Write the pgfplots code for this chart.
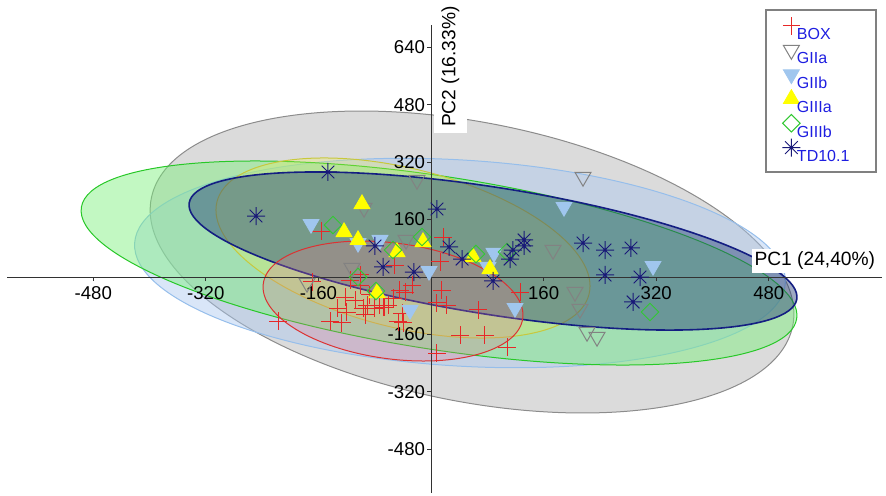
\documentclass[border=0pt]{standalone}
\usepackage{pgfplots}
\usepackage{pgfplotstable}
\pgfplotsset{compat=1.18}
\usepackage{fontspec}
\setmainfont{Liberation Sans}
\definecolor{axisgray}{RGB}{50,50,50}
\definecolor{boxred}{RGB}{230,40,40}
\definecolor{giiagray}{RGB}{130,130,130}
\definecolor{giibblue}{RGB}{160,198,238}
\definecolor{giiiayel}{RGB}{255,255,0}
\definecolor{giiibgreen}{RGB}{50,200,50}
\definecolor{tdnavy}{RGB}{25,25,120}
\definecolor{legblue}{RGB}{30,30,225}
\definecolor{ellgrayD}{RGB}{140,140,140}
\definecolor{ellgrayF}{RGB}{190,190,190}
\definecolor{ellblueD}{RGB}{150,190,235}
\definecolor{ellblueF}{RGB}{170,200,240}
\definecolor{ellgreenD}{RGB}{40,200,40}
\definecolor{ellgreenF}{RGB}{120,240,120}
\definecolor{ellyelD}{RGB}{200,200,60}
\definecolor{ellyelF}{RGB}{240,240,80}
\definecolor{ellnavyD}{RGB}{20,30,130}
\definecolor{ellnavyF}{RGB}{40,65,120}
\definecolor{ellredD}{RGB}{220,50,50}
\definecolor{ellredF}{RGB}{225,120,140}
\pgfdeclareplotmark{star8}{%
  \pgfpathmoveto{\pgfqpoint{-\pgfplotmarksize}{0pt}}\pgfpathlineto{\pgfqpoint{\pgfplotmarksize}{0pt}}%
  \pgfpathmoveto{\pgfqpoint{0pt}{-\pgfplotmarksize}}\pgfpathlineto{\pgfqpoint{0pt}{\pgfplotmarksize}}%
  \pgfpathmoveto{\pgfqpoint{-0.7071\pgfplotmarksize}{-0.7071\pgfplotmarksize}}\pgfpathlineto{\pgfqpoint{0.7071\pgfplotmarksize}{0.7071\pgfplotmarksize}}%
  \pgfpathmoveto{\pgfqpoint{-0.7071\pgfplotmarksize}{0.7071\pgfplotmarksize}}\pgfpathlineto{\pgfqpoint{0.7071\pgfplotmarksize}{-0.7071\pgfplotmarksize}}%
  \pgfusepathqstroke
  \pgfpathcircle{\pgfpointorigin}{0.6pt}\pgfusepathqfill
}
% red plus glyph built from two rules (coloured through the text colour)
\newcommand{\boxplusglyph}{\textcolor{boxred}{\makebox[0pt][c]{\rule[-0.25pt]{8.6pt}{0.5pt}}\makebox[0pt][c]{\rule[-4.3pt]{0.5pt}{8.6pt}}}}
\pgfplotstableread{
x y
-156.3 128.1
17.1 111.4
-217.4 -122.6
-169.1 -13.9
-143.5 -122.6
-126.5 -128.1
-119.4 -97.5
-122.2 -55.7
-100.9 5.6
-115.1 -8.4
-90.9 -78.0
-96.6 -86.4
-79.6 -86.4
-68.2 -83.6
-61.1 -78.0
-54.0 -58.5
-100.9 -22.3
-51.2 33.4
-44.1 -36.2
-27.0 -22.3
12.8 41.8
15.6 -36.2
8.5 -72.4
22.7 -78.0
66.8 -91.9
41.2 -161.6
76.7 -161.6
108.0 -195.0
8.5 -211.7
-72.5 -78.0
-65.4 -83.6
-41.2 -100.3
-39.8 -128.1
-46.9 -125.3
126.5 -41.8
-36.9 -41.8
-132.2 -86.4
-108.0 -64.1
-86.7 -50.1
-93.8 -105.8
}\boxdata
\begin{document}
\begin{tikzpicture}
\begin{axis}[
  x=0.35185pt, y=0.1795pt,
  xmin=-602, xmax=641, ymin=-601, ymax=702,
  axis lines=middle,
  axis on top,
  axis line style={-, draw=axisgray, line width=0.5pt},
  xtick={-480,-320,-160,160,320,480},
  ytick={-480,-320,-160,160,320,480,640},
  tick align=outside,
  major tick length=2pt,
  tick style={axisgray, line width=0.5pt},
  ticklabel style={font=\fontsize{9.3}{11}\selectfont, /pgf/number format/assume math mode=true, text=black},
  xticklabel style={yshift=1pt},
  yticklabel style={xshift=2.5pt},
  clip=false,
  legend style={at={(axis cs:505.3,704.7)}, anchor=north west, draw=none, fill=none,
    font=\fontsize{8}{9.5}\selectfont, text=legblue,
    inner xsep=0pt, inner ysep=0pt, row sep=1pt,
    nodes={text=legblue, inner xsep=2pt},
    /tikz/every even column/.append style={column sep=0pt}},
  legend cell align=left,
  legend image code/.code={\path[draw=none,fill=none] (0pt,-1pt) rectangle (3pt,5pt);
    \draw[overlay,mark repeat=2,mark phase=2,#1] plot coordinates {(0pt,0pt) (2.2pt,4.8pt) (3pt,0pt)};},
]
\draw[draw=ellgrayD, line width=0.5pt, fill=ellgrayF, fill opacity=0.55, rotate around={-11.25:(axis cs:58.3,41.8)}] (axis cs:58.3,41.8) ellipse [x radius=163.5pt, y radius=69.75pt];
\draw[draw=ellblueD, line width=0.5pt, fill=ellblueF, fill opacity=0.45, rotate around={-3.5:(axis cs:41.2,39.0)}] (axis cs:41.2,39.0) ellipse [x radius=163pt, y radius=51.5pt];
\draw[draw=ellgreenD, line width=0.5pt, fill=ellgreenF, fill opacity=0.45, rotate around={-8.85:(axis cs:11.4,39.0)}] (axis cs:11.4,39.0) ellipse [x radius=181pt, y radius=43.25pt];
\draw[draw=ellyelD, line width=0.5pt, fill=ellyelF, fill opacity=0.28, rotate around={-13.95:(axis cs:-39.8,80.8)}] (axis cs:-39.8,80.8) ellipse [x radius=95.85pt, y radius=39.8pt];
\draw[draw=ellnavyD, line width=0.8pt, fill=ellnavyF, fill opacity=0.45, rotate around={-9:(axis cs:88.1,72.4)}] (axis cs:88.1,72.4) ellipse [x radius=153.8pt, y radius=31.75pt];
\draw[draw=ellredD, line width=0.5pt, fill=ellredF, fill opacity=0.28, rotate around={-7.65:(axis cs:-54.0,-66.9)}] (axis cs:-54.0,-66.9) ellipse [x radius=65.45pt, y radius=28.95pt];
\draw[draw=gray, line width=0.6pt, fill=white] (axis cs:476.1,292.5) rectangle (axis cs:632.4,743.7);

% BOX
\addplot[only marks, mark=text, text mark={\boxplusglyph}, text mark as node=false, color=boxred] table[x=x, y=y] {\boxdata};
\addlegendentry{BOX}
% GIIa
\addplot[only marks, mark=triangle, mark size=4.6pt, color=giiagray, mark options={rotate=180, draw=giiagray, fill=none}, line width=0.5pt] coordinates {
(-19.9,270.2) (-95.2,192.2) (-35.5,103.1) (-112.3,25.1) (-176.2,-16.7) (216.0,278.6)
(173.4,75.2) (204.6,-41.8) (211.7,-89.1) (221.7,-153.2) (235.9,-167.1)
};
\addlegendentry{GIIa}
% GIIb
\addplot[only marks, mark=triangle*, mark size=4.6pt, color=giibblue, mark options={rotate=180, draw=giibblue, fill=giibblue}] coordinates {
(-170.5,147.6) (-103.7,94.7) (-72.5,103.1) (-2.8,16.7) (-29.8,-91.9) (89.5,66.9)
(81.0,27.9) (119.4,-86.4) (189.0,195.0) (315.5,30.6)
};
\addlegendentry{GIIb}
% GIIIa
\addplot[only marks, mark=triangle*, mark size=4.6pt, color=giiiayel, mark options={draw=giiiayel, fill=giiiayel}] coordinates {
(-98.1,203.3) (-123.6,125.3) (-103.7,103.1) (-48.3,69.6) (-11.4,97.5) (59.7,55.7)
(83.8,22.3) (-76.7,-44.6)
};
\addlegendentry{GIIIa}
% GIIIb
\addplot[only marks, mark=square, mark size=3.1pt, color=giiibgreen, mark options={rotate=45, draw=giiibgreen, fill=none}, line width=0.5pt] coordinates {
(-139.3,144.8) (-12.8,111.4) (-54.0,75.2) (-103.7,0) (-78.2,-39.0) (63.9,64.1)
(108.0,69.6) (311.2,-97.5)
};
\addlegendentry{GIIIb}
% TD10.1
\addplot[only marks, mark=star8, mark size=4.5pt, color=tdnavy, mark options={draw=tdnavy, fill=tdnavy}, line width=0.5pt] coordinates {
(-146.4,292.5) (-248.7,169.9) (8.5,189.4) (-79.6,86.4) (-68.2,27.9) (-24.2,13.9)
(25.6,83.6) (44.1,50.1) (88.1,-11.1) (112.3,50.1) (116.5,75.2) (132.2,103.1)
(132.2,86.4) (216.0,94.7) (247.3,75.2) (284.2,80.8) (247.3,5.6) (297.0,0)
(287.1,-69.6)
};
\addlegendentry{TD10.1}

\node[anchor=south east, fill=white, inner sep=1.5pt, font=\fontsize{9.6}{11}\selectfont] at (axis cs:636,11) {PC1 (24,40\%)};
\node[rotate=90, anchor=center, fill=white, inner xsep=3pt, inner ysep=4pt, font=\fontsize{9.6}{11}\selectfont] at (axis cs:27.7,586.3) {PC2 (16.33\%)};
\path (axis cs:-612.5,-610) rectangle (axis cs:646.6,771.6);
\end{axis}
\end{tikzpicture}
\end{document}
